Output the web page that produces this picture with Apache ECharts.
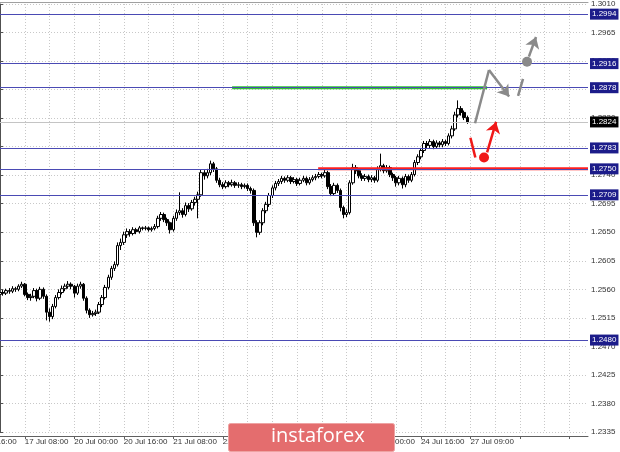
<!DOCTYPE html>
<html>
<head>
<meta charset="utf-8">
<script src="https://cdn.jsdelivr.net/npm/echarts@6/dist/echarts.min.js"></script>
<style>
html,body{margin:0;padding:0;background:#fff;}
#chart{width:620px;height:452px;}
</style>
</head>
<body>
<div id="chart"></div>
<script>
// ---- data (GBP/USD H1) ----
var openP = [
1.2552,1.2555,1.2554,1.2558,1.2557,1.2561,1.2560,1.2565,1.2568,1.2552,
1.2547,1.2549,1.2558,1.2546,1.2560,1.2549,1.2524,1.2517,1.2533,1.2547,
1.2555,1.2561,1.2565,1.2568,1.2565,1.2554,1.2565,1.2568,1.2546,1.2527,
1.2520,1.2522,1.2524,1.2536,1.2547,1.2563,1.2579,1.2593,1.2599,1.2629,
1.2634,1.2646,1.2651,1.2648,1.2654,1.2651,1.2657,1.2656,1.2657,1.2654,
1.2656,1.2659,1.2672,1.2678,1.2670,1.2665,1.2654,1.2672,1.2681,1.2684,
1.2678,1.2692,1.2687,1.2697,1.2702,1.2709,1.2744,1.2739,1.2744,1.2758,
1.2750,1.2732,1.2725,1.2722,1.2728,1.2725,1.2728,1.2724,1.2725,1.2722,
1.2724,1.2719,1.2716,1.2665,1.2650,1.2665,1.2684,1.2694,1.2708,1.2720,
1.2727,1.2730,1.2735,1.2732,1.2736,1.2730,1.2733,1.2727,1.2732,1.2735,
1.2728,1.2733,1.2736,1.2738,1.2741,1.2739,1.2744,1.2722,1.2711,1.2724,
1.2716,1.2689,1.2678,1.2681,1.2728,1.2752,1.2747,1.2739,1.2735,1.2738,
1.2733,1.2736,1.2732,1.2750,1.2755,1.2747,1.2752,1.2741,1.2736,1.2728,
1.2735,1.2725,1.2738,1.2732,1.2741,1.2760,1.2769,1.2779,1.2790,1.2787,
1.2793,1.2785,1.2791,1.2788,1.2793,1.2790,1.2802,1.2813,1.2835,1.2845,
1.2839,1.2831];
var closeP = [
1.2555,1.2554,1.2558,1.2557,1.2561,1.2560,1.2565,1.2568,1.2552,1.2547,
1.2549,1.2558,1.2546,1.2560,1.2549,1.2524,1.2517,1.2533,1.2547,1.2555,
1.2561,1.2565,1.2568,1.2565,1.2554,1.2565,1.2568,1.2546,1.2527,1.2520,
1.2522,1.2524,1.2536,1.2547,1.2563,1.2579,1.2593,1.2599,1.2629,1.2634,
1.2646,1.2651,1.2648,1.2654,1.2651,1.2657,1.2656,1.2657,1.2654,1.2656,
1.2659,1.2672,1.2678,1.2670,1.2665,1.2654,1.2672,1.2681,1.2684,1.2678,
1.2692,1.2687,1.2697,1.2702,1.2709,1.2744,1.2739,1.2744,1.2758,1.2750,
1.2732,1.2725,1.2722,1.2728,1.2725,1.2728,1.2724,1.2725,1.2722,1.2724,
1.2719,1.2716,1.2665,1.2650,1.2665,1.2684,1.2694,1.2708,1.2720,1.2727,
1.2730,1.2735,1.2732,1.2736,1.2730,1.2733,1.2727,1.2732,1.2735,1.2728,
1.2733,1.2736,1.2738,1.2741,1.2739,1.2744,1.2722,1.2711,1.2724,1.2716,
1.2689,1.2678,1.2681,1.2728,1.2752,1.2747,1.2739,1.2735,1.2738,1.2733,
1.2736,1.2732,1.2750,1.2755,1.2747,1.2752,1.2741,1.2736,1.2728,1.2735,
1.2725,1.2738,1.2732,1.2741,1.2760,1.2769,1.2779,1.2790,1.2787,1.2793,
1.2785,1.2791,1.2788,1.2793,1.2790,1.2802,1.2813,1.2835,1.2845,1.2839,
1.2831,1.2824];
var highP = [
1.2558,1.2559,1.2561,1.2562,1.2565,1.2564,1.2568,1.2572,1.2570,1.2555,
1.2553,1.2562,1.2561,1.2564,1.2563,1.2552,1.2530,1.2537,1.2551,1.2560,
1.2566,1.2569,1.2573,1.2571,1.2567,1.2569,1.2572,1.2570,1.2549,1.2530,
1.2526,1.2528,1.2540,1.2551,1.2567,1.2583,1.2597,1.2604,1.2634,1.2640,
1.2651,1.2656,1.2655,1.2658,1.2657,1.2660,1.2659,1.2660,1.2659,1.2659,
1.2663,1.2676,1.2682,1.2681,1.2673,1.2667,1.2676,1.2686,1.2713,1.2688,
1.2697,1.2696,1.2701,1.2706,1.2714,1.2749,1.2748,1.2750,1.2763,1.2761,
1.2753,1.2736,1.2729,1.2732,1.2731,1.2733,1.2731,1.2729,1.2728,1.2727,
1.2727,1.2722,1.2719,1.2669,1.2669,1.2688,1.2698,1.2712,1.2724,1.2731,
1.2734,1.2739,1.2738,1.2740,1.2739,1.2737,1.2736,1.2736,1.2739,1.2738,
1.2737,1.2740,1.2742,1.2745,1.2744,1.2749,1.2747,1.2726,1.2728,1.2727,
1.2719,1.2692,1.2686,1.2732,1.2758,1.2756,1.2750,1.2743,1.2742,1.2741,
1.2740,1.2739,1.2754,1.2774,1.2758,1.2756,1.2755,1.2744,1.2739,1.2739,
1.2738,1.2742,1.2741,1.2745,1.2764,1.2773,1.2783,1.2794,1.2794,1.2797,
1.2796,1.2795,1.2794,1.2797,1.2796,1.2806,1.2818,1.2840,1.2858,1.2849,
1.2842,1.2834];
var lowP = [
1.2549,1.2550,1.2551,1.2553,1.2554,1.2556,1.2557,1.2562,1.2549,1.2543,
1.2542,1.2546,1.2541,1.2543,1.2545,1.2511,1.2509,1.2513,1.2530,1.2544,
1.2552,1.2557,1.2561,1.2560,1.2547,1.2551,1.2561,1.2542,1.2522,1.2515,
1.2517,1.2518,1.2521,1.2532,1.2544,1.2560,1.2575,1.2589,1.2596,1.2622,
1.2630,1.2641,1.2643,1.2645,1.2647,1.2648,1.2653,1.2653,1.2651,1.2651,
1.2653,1.2656,1.2668,1.2666,1.2660,1.2648,1.2651,1.2668,1.2677,1.2673,
1.2675,1.2682,1.2684,1.2692,1.2672,1.2706,1.2733,1.2735,1.2740,1.2745,
1.2728,1.2721,1.2718,1.2719,1.2721,1.2722,1.2720,1.2720,1.2718,1.2719,
1.2715,1.2711,1.2660,1.2642,1.2646,1.2661,1.2680,1.2690,1.2704,1.2716,
1.2723,1.2726,1.2728,1.2729,1.2726,1.2727,1.2723,1.2724,1.2729,1.2724,
1.2725,1.2730,1.2732,1.2735,1.2735,1.2736,1.2718,1.2707,1.2708,1.2712,
1.2683,1.2672,1.2674,1.2678,1.2725,1.2742,1.2735,1.2731,1.2731,1.2729,
1.2729,1.2728,1.2729,1.2746,1.2743,1.2744,1.2737,1.2731,1.2722,1.2724,
1.2719,1.2721,1.2728,1.2729,1.2738,1.2756,1.2765,1.2775,1.2783,1.2783,
1.2781,1.2782,1.2784,1.2784,1.2786,1.2787,1.2798,1.2810,1.2831,1.2834,
1.2827,1.2821];

// tick labels
var xTickLabels = ['17 Jul 08:00','20 Jul 00:00','20 Jul 16:00','21 Jul 08:00','22 Jul 00:00',
                   '22 Jul 16:00','23 Jul 08:00','24 Jul 00:00','24 Jul 16:00','27 Jul 09:00'];
var xHiddenLeftLabel = '16 Jul 16:00';
var barSlots = 191;          // bars incl. empty future space
var labelFirst = 8, labelStep = 16, gridStep = 8;
var yMin = 1.2335, yMax = 1.3010, yStep = 0.0045;

// horizontal levels
var blueLevels = [1.2994, 1.2916, 1.2878, 1.2783, 1.2750, 1.2709, 1.2480];
var bidPrice = 1.2824;
var redLevel = {value: 1.2750, from: 102.8, to: 190};
var greenLevel = {value: 1.2878, from: 75, to: 157.4};

// forecast sketches [barIndex, price]
var greyUpLeg = [[153.5, 1.2822], [158.0, 1.2906]];
var greyDownLeg = [[158.0, 1.2906], [164.5, 1.2864]];
var greyDash = [[167.4, 1.2865], [169.0, 1.2892]];
var greyDot = [170.3, 1.2919];
var greyUp = [[170.9, 1.2927], [173.2, 1.2958]];
var redDown = [[152.0, 1.2799], [153.6, 1.2768]];
var redDot = [156.4, 1.2768];
var redUp = [[157.4, 1.2776], [160.3, 1.2824]];

// ---- build ----
var cats = [];
for (var i = 0; i < barSlots; i++) cats.push(String(i));
var ohlc = [];
for (var j = 0; j < openP.length; j++) ohlc.push([openP[j], closeP[j], lowP[j], highP[j]]);

var FONT = 'Liberation Sans';
var NAVY = '#1c1c8a';
var LINEBLUE = '#4a4ab4';
var GREY = '#8a8a8a', RED = '#f01818';

var levelLines = blueLevels.map(function (v) {
  return {yAxis: v, lineStyle: {color: LINEBLUE, width: 1, type: 'solid'},
          label: {backgroundColor: NAVY, color: '#fff'}};
});
levelLines.push({yAxis: bidPrice, lineStyle: {color: '#c4c4c4', width: 1, type: 'solid'},
                 label: {backgroundColor: '#000', color: '#fff'}});

function segSeries(coords, color, arrow) {
  return {
    type: 'lines', coordinateSystem: 'cartesian2d', xAxisIndex: 1, yAxisIndex: 0, silent: true,
    symbol: ['none', arrow ? 'arrow' : 'none'], symbolSize: 11,
    lineStyle: {color: color, width: 2.5, opacity: 1, curveness: 0},
    data: [{coords: coords}], z: 5
  };
}

var series = [{
  type: 'candlestick', name: 'GBPUSD', xAxisIndex: 0, yAxisIndex: 0,
  data: ohlc, barWidth: 3,
  itemStyle: {color: '#ffffff', color0: '#000000', borderColor: '#000000', borderColor0: '#000000', borderWidth: 1},
  markLine: {
    silent: true, symbol: ['none', 'none'], animation: false, precision: 4,
    label: {show: true, position: 'end', distance: 2, fontSize: 8, fontFamily: FONT,
            padding: [2, 2, 1, 2], formatter: function (p) { return Number(p.value).toFixed(4); }},
    data: levelLines
  },
  z: 3
}, {
  type: 'line', xAxisIndex: 1, yAxisIndex: 0, symbol: 'none', silent: true,
  data: [[redLevel.from, redLevel.value], [redLevel.to, redLevel.value]],
  lineStyle: {color: '#ff1f1f', width: 3}, z: 4
}, {
  type: 'line', xAxisIndex: 1, yAxisIndex: 0, symbol: 'none', silent: true,
  data: [[greenLevel.from, greenLevel.value], [greenLevel.to, greenLevel.value]],
  lineStyle: {color: '#2fc22f', width: 3}, z: 4
},
  segSeries(greyUpLeg, GREY, false),
  segSeries(greyDownLeg, GREY, true),
  segSeries(greyDash, GREY, false),
  segSeries(greyUp, GREY, true),
  segSeries(redDown, RED, false),
  segSeries(redUp, RED, true),
{
  type: 'scatter', xAxisIndex: 1, yAxisIndex: 0, silent: true, symbolSize: 10,
  data: [greyDot], itemStyle: {color: GREY, opacity: 1}, z: 6
}, {
  type: 'scatter', xAxisIndex: 1, yAxisIndex: 0, silent: true, symbolSize: 10,
  data: [redDot], itemStyle: {color: RED, opacity: 1}, z: 6
}];

var chart = echarts.init(document.getElementById('chart'), null, {renderer: 'canvas'});
chart.setOption({
  animation: false,
  backgroundColor: '#ffffff',
  grid: {left: 0, right: 32, top: 3, bottom: 20, containLabel: false},
  xAxis: [{
    type: 'category', data: cats, boundaryGap: false, offset: 4,
    axisLine: {show: true, lineStyle: {color: '#606060', width: 1}},
    axisTick: {show: true, length: 3, inside: false,
               interval: function (idx) { return idx % labelStep === labelFirst; },
               lineStyle: {color: '#606060'}},
    axisLabel: {show: true, interval: function (idx) { return idx % labelStep === labelFirst && (idx - labelFirst) / labelStep < xTickLabels.length; },
                formatter: function (v, idx) {
                  var k = (idx - labelFirst) / labelStep;
                  return (idx % labelStep === labelFirst && k < xTickLabels.length) ? xTickLabels[k] : '';
                },
                align: 'left', margin: 2, fontSize: 8, fontFamily: FONT, color: '#333'},
    splitLine: {show: true, interval: function (idx) { return idx % gridStep === 0; },
                lineStyle: {color: '#c8c8c8', type: [1, 2], width: 1}}
  }, {
    type: 'value', min: 0, max: barSlots - 1, position: 'top', offset: 2,
    axisLine: {show: true, lineStyle: {color: '#a0a0a0', width: 1}},
    axisTick: {show: false}, axisLabel: {show: false}, splitLine: {show: false}
  }],
  yAxis: [{
    type: 'value', position: 'right', min: yMin, max: yMax, interval: yStep, scale: true,
    axisLine: {show: true, lineStyle: {color: '#505050', width: 1}},
    axisTick: {show: true, length: 3, lineStyle: {color: '#505050'}},
    axisLabel: {show: true, margin: 3, fontSize: 8, fontFamily: FONT, color: '#333',
                formatter: function (v) { return v.toFixed(4); }},
    splitLine: {show: true, lineStyle: {color: '#c8c8c8', type: [1, 2], width: 1}}
  }],
  series: series,
  graphic: [{
    type: 'text', left: -27, top: 438, silent: true,
    style: {text: xHiddenLeftLabel, font: '8px "Liberation Sans"', fill: '#333'}
  }, {
    type: 'rect', left: 228, top: 423, z: 100, silent: true,
    shape: {width: 166, height: 28, r: 2},
    style: {fill: '#e46d6e', stroke: '#eea3a3', lineWidth: 1}
  }, {
    type: 'text', left: 271, top: 426, z: 101, silent: true,
    style: {text: 'instaforex', font: '20px "Open Sans"', fill: '#ffffff'}
  }]
});
</script>
</body>
</html>
